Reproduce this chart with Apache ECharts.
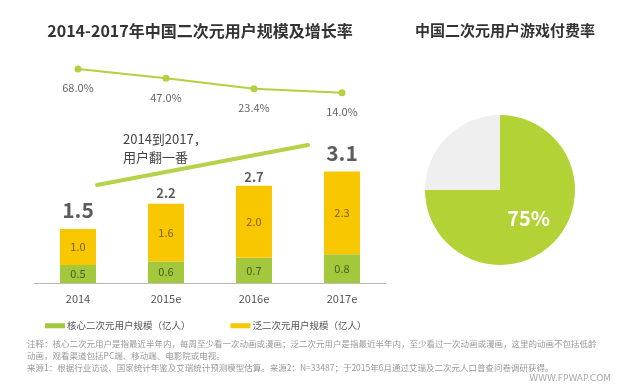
<!DOCTYPE html>
<html>
<head>
<meta charset="utf-8">
<script src="https://cdn.jsdelivr.net/npm/echarts@6/dist/echarts.min.js"></script>
<style>
html,body{margin:0;padding:0;background:#fff;}
#c{width:623px;height:389px;}
</style>
</head>
<body>
<div id="c"></div>
<script>
// ---- data ----
var categories = ['2014', '2015e', '2016e', '2017e'];
var coreUsers = [0.5, 0.6, 0.7, 0.8];
var panUsers = [1.0, 1.6, 2.0, 2.3];
var totalUsers = [1.5, 2.2, 2.7, 3.1];
var growthRate = [68.0, 47.0, 23.4, 14.0];
var payNames = ['付费', '未付费'];
var payRate = [75, 25];
var seriesNames = ['核心二次元用户规模（亿人）', '泛二次元用户规模（亿人）'];

var FONT = '"Noto Sans CJK SC", "Noto Sans", sans-serif';
var GREEN = '#a3c83c';
var YELLOW = '#f9c700';

var chart = echarts.init(document.getElementById('c'), null, {renderer: 'canvas'});

var totalData = totalUsers.map(function (v, i) {
  var big = (i === 0 || i === totalUsers.length - 1);
  return {
    value: v,
    label: big ? {fontSize: 21, distance: 8} : {fontSize: 13, distance: i === 1 ? 4 : 2}
  };
});

var pieData = payRate.map(function (v, i) {
  return {
    name: payNames[i],
    value: v,
    itemStyle: {color: i === 0 ? '#b3d236' : '#efefef'},
    label: {show: i === 0}
  };
});

var option = {
  animation: false,
  textStyle: {fontFamily: FONT},
  title: [
    {text: '2014-2017年中国二次元用户规模及增长率', left: 195, top: 18, textAlign: 'center',
     textStyle: {fontSize: 16, fontWeight: 'bold', color: '#333', fontFamily: FONT}},
    {text: '中国二次元用户游戏付费率', left: 500, top: 18, textAlign: 'center',
     textStyle: {fontSize: 15, fontWeight: 'bold', color: '#333', fontFamily: FONT}}
  ],
  legend: {
    left: 40, top: 316, itemWidth: 20, itemHeight: 5, itemGap: 40,
    icon: 'rect',
    textStyle: {fontSize: 9.5, color: '#555', padding: [0, 0, 0, -3]},
    data: seriesNames
  },
  grid: [
    {left: 34, width: 352, top: 103, height: 180},
    {left: 34, width: 352, top: 55, height: 44}
  ],
  xAxis: [
    {type: 'category', gridIndex: 0, data: categories,
     axisLine: {lineStyle: {color: '#bbb', width: 1}},
     axisTick: {show: false},
     axisLabel: {color: '#555', fontSize: 11, margin: 10}},
    {type: 'category', gridIndex: 1, data: categories, show: false}
  ],
  yAxis: [
    {type: 'value', gridIndex: 0, min: 0, max: 5, show: false, splitLine: {show: false}},
    {type: 'value', gridIndex: 1, min: 0, max: 100, show: false, splitLine: {show: false}}
  ],
  series: [
    {name: seriesNames[0], type: 'bar', stack: 'u', xAxisIndex: 0, yAxisIndex: 0,
     barWidth: 36, data: coreUsers, itemStyle: {color: GREEN},
     label: {show: true, position: 'inside', color: '#4a5a20', fontSize: 11,
             formatter: function (p) { return p.value.toFixed(1); }}},
    {name: seriesNames[1], type: 'bar', stack: 'u', xAxisIndex: 0, yAxisIndex: 0,
     barWidth: 36, data: panUsers, itemStyle: {color: YELLOW},
     label: {show: true, position: 'inside', color: '#7a5f00', fontSize: 11,
             formatter: function (p) { return p.value.toFixed(1); }}},
    {name: 'total', type: 'scatter', xAxisIndex: 0, yAxisIndex: 0,
     symbolSize: 0, data: totalData, silent: true,
     label: {show: true, position: 'top', color: '#333', fontWeight: 'bold',
             formatter: function (p) { return p.value.toFixed(1); }}},
    {name: 'growth', type: 'line', xAxisIndex: 1, yAxisIndex: 1,
     data: growthRate, symbol: 'circle', symbolSize: 7,
     lineStyle: {color: '#b5d03e', width: 2},
     itemStyle: {color: '#b5d03e'},
     label: {show: true, position: 'bottom', distance: 10, color: '#666', fontSize: 11,
             formatter: function (p) { return p.value.toFixed(1) + '%'; }}},
    {name: 'pay', type: 'pie', center: [500, 190], radius: [0, 75],
     startAngle: 90, clockwise: true, data: pieData, silent: true,
     label: {position: 'inside', formatter: '{d}%', color: '#fff', fontSize: 20, fontWeight: 'bold'},
     labelLine: {show: false}}
  ],
  graphic: [
    {type: 'line', shape: {x1: 97, y1: 185, x2: 308, y2: 145},
     style: {stroke: '#b6d24a', lineWidth: 4, lineCap: 'round'}, silent: true},
    {type: 'text', left: 123, top: 130,
     style: {text: '2014到2017，\n用户翻一番', fill: '#444', font: '13px ' + FONT, lineHeight: 18}},
    {type: 'text', left: 27, top: 338,
     style: {text: '注释：核心二次元用户是指最近半年内，每周至少看一次动画或漫画；泛二次元用户是指最近半年内，至少看过一次动画或漫画，这里的动画不包括低龄\n动画，观看渠道包括PC端、移动端、电影院或电视。\n来源1：根据行业访谈、国家统计年鉴及艾瑞统计预测模型估算。来源2：N=33487；于2015年6月通过艾瑞及二次元人口普查问卷调研获得。',
             fill: '#999', font: '8.5px ' + FONT, lineHeight: 12}},
    {type: 'text', right: 12, top: 374,
     style: {text: 'WWW.FPWAP.COM', fill: '#aaa', font: '9px "DejaVu Sans", sans-serif'}}
  ]
};
chart.setOption(option);
</script>
</body>
</html>
